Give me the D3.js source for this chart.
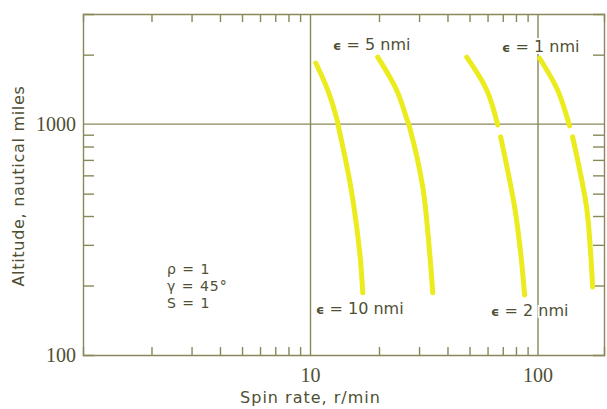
<!DOCTYPE html>
<html>
<head>
<meta charset="utf-8">
<script src="https://cdn.jsdelivr.net/npm/d3@7"></script>
<style>
    body { margin: 0; background: #fff; }
    .frame line, .frame path { stroke: #88885a; stroke-width: 1.4; }
    .tick-label { font-family: "Liberation Serif"; font-size: 20px; fill: #4f4f33; }
    .axis-label { font-family: "DejaVu Sans"; font-size: 16px; fill: #4f4f33; }
    .note { font-family: "DejaVu Sans"; font-size: 16px; fill: #4f4f33; }
    .param { font-family: "DejaVu Sans"; font-size: 14px; letter-spacing: 1px; fill: #4f4f33; }
    .halo { stroke: #fff; stroke-width: 4px; paint-order: stroke; }
</style>
</head>
<body>
<svg class="visSVG"></svg>
<script>
const svgWidth = 607;
const svgHeight = 409;

const svg = d3.select('.visSVG')
    .attr("width", svgWidth)
    .attr("height", svgHeight);

var margin = { top: 14, right: 3, left: 83, bottom: 54 };

// DATA (null = break in the curve at the 1000 line)
var epsilonNames = ["10", "5", "2", "1"];

var spinEps10 = [10.55, 11.9, 13.05, 13.31, 15.03, 16.46, 16.97];
var altEps10  = [1840, 1406, 1054, 963, 535, 277, 186];

var spinEps5 = [19.75, 23.9, 26.5, 27.3, 31.13, 33.4, 34.45];
var altEps5  = [1950, 1406, 1054, 963, 535, 277, 186];

var spinEps2 = [48.6, 59.5, 66.5, null, 68.5, 78.9, 83.9, 87.3];
var altEps2  = [1950, 1406, 992, null, 881, 438, 277, 182];

var spinEps1 = [101.6, 121.9, 137.6, null, 141.9, 163.4, 170.3, 173.8];
var altEps1  = [1930, 1406, 983, null, 881, 438, 277, 197];

var xMajor = [10, 100];
var xMinor = [2, 3, 4, 5, 6, 7, 8, 9, 20, 30, 40, 50, 60, 70, 80, 90];
var yMajor = [100, 1000];
var yMinor = [200, 300, 400, 500, 600, 700, 800, 900, 2000];

var xDomain = [1, 195];
var yDomain = [100, 3000];

// SCALES
const xScale = d3.scaleLog()
    .domain(xDomain)
    .range([margin.left, svgWidth - margin.right]);

const yScale = d3.scaleLog()
    .domain(yDomain)
    .range([svgHeight - margin.bottom, margin.top]);

var x0 = xScale.range()[0], x1 = xScale.range()[1];
var y0 = yScale.range()[0], y1 = yScale.range()[1];

// FRAME + TICKS
var frame = svg.append("g").attr("class", "frame");

frame.append("g")
    .attr("transform", "translate(0," + y0 + ")")
    .call(d3.axisBottom(xScale).tickValues(xMinor).tickSize(-8).tickFormat(""));
frame.append("g")
    .attr("transform", "translate(0," + y1 + ")")
    .call(d3.axisTop(xScale).tickValues(xMinor).tickSize(-8).tickFormat(""));
frame.append("g")
    .attr("transform", "translate(" + x0 + ",0)")
    .call(d3.axisLeft(yScale).tickValues(yMinor).tickSize(-11).tickFormat(""));
frame.append("g")
    .attr("transform", "translate(" + x1 + ",0)")
    .call(d3.axisRight(yScale).tickValues(yMinor).tickSize(-11).tickFormat(""));

// grid lines at the decades
frame.selectAll(".vgrid")
    .data(xMajor).enter().append("line")
        .attr("x1", d => xScale(d)).attr("x2", d => xScale(d))
        .attr("y1", y0).attr("y2", y1);
frame.selectAll(".hgrid")
    .data([1000]).enter().append("line")
        .attr("x1", x0).attr("x2", x1)
        .attr("y1", d => yScale(d)).attr("y2", d => yScale(d));

frame.selectAll(".domain").attr("fill", "none");

// tick labels
svg.selectAll(".xlab")
    .data(xMajor).enter().append("text")
        .attr("class", "tick-label")
        .attr("x", d => xScale(d))
        .attr("y", y0 + 27)
        .attr("text-anchor", "middle")
        .text(d => d);
svg.selectAll(".ylab")
    .data(yMajor).enter().append("text")
        .attr("class", "tick-label")
        .attr("x", x0 - 7)
        .attr("y", d => yScale(d) + 7)
        .attr("text-anchor", "end")
        .text(d => d);

// axis titles
svg.append("text")
    .attr("class", "axis-label")
    .attr("x", xScale(10))
    .attr("y", 403)
    .attr("text-anchor", "middle")
    .style("letter-spacing", "1px")
    .text("Spin rate, r/min");

svg.append("text")
    .attr("class", "axis-label")
    .attr("transform", "translate(24," + 186 + ") rotate(-90)")
    .attr("text-anchor", "middle")
    .style("letter-spacing", "0.7px")
    .text("Altitude, nautical miles");

// CURVES
var curves = [
    [spinEps10, altEps10],
    [spinEps5, altEps5],
    [spinEps2, altEps2],
    [spinEps1, altEps1]
];

var line = d3.line()
    .defined(d => d.alt !== null)
    .x(d => xScale(d.spin))
    .y(d => yScale(d.alt))
    .curve(d3.curveCatmullRom);

svg.append("g")
    .selectAll("path")
    .data(curves).enter().append("path")
        .attr("d", c => line(c[0].map((s, i) => ({ spin: s, alt: c[1][i] }))))
        .attr("fill", "none")
        .attr("stroke", "#ebeb1e")
        .attr("stroke-width", 5)
        .attr("stroke-linecap", "round");

// EPSILON LABELS
var epsPos = [[316, 314], [333, 50], [491, 316], [502, 52]];

var epsText = svg.append("g")
    .selectAll("text")
    .data(epsilonNames).enter().append("text")
        .attr("class", "note halo")
        .attr("x", (d, i) => epsPos[i][0])
        .attr("y", (d, i) => epsPos[i][1]);
epsText.append("tspan")
    .style("font-weight", "bold")
    .style("font-size", "13px")
    .text("\u03f5");
epsText.append("tspan")
    .text(d => " = " + d + " nmi");

// PARAMETERS
var params = ["\u03c1 = 1", "\u03b3 = 45\u00b0", "S = 1"];
svg.append("g")
    .selectAll("text")
    .data(params).enter().append("text")
        .attr("class", "param")
        .attr("x", 167)
        .attr("y", (d, i) => 274 + i * 16.8)
        .text(d => d);
</script>
</body>
</html>
